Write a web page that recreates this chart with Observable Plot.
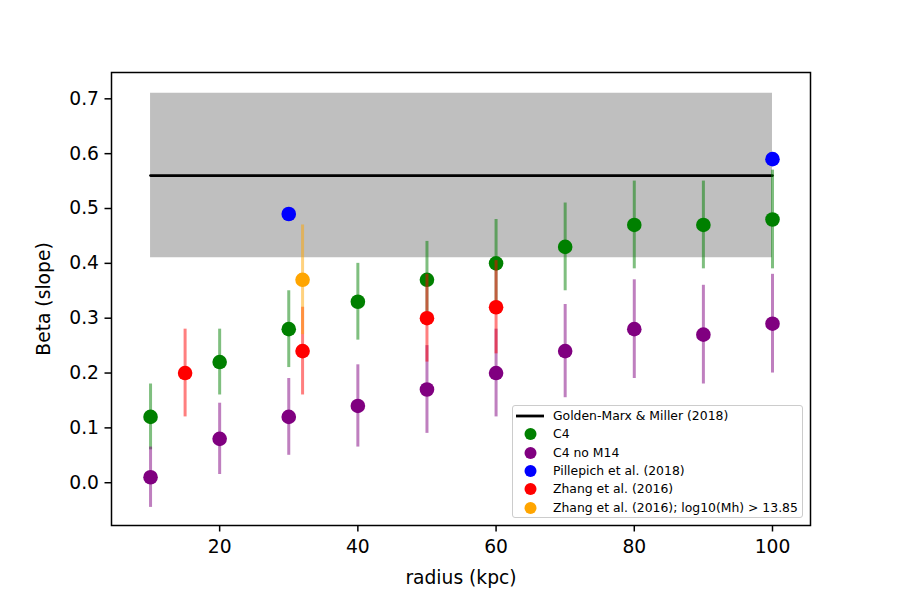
<!DOCTYPE html>
<html>
<head>
<meta charset="utf-8">
<script src="https://cdn.jsdelivr.net/npm/d3@7"></script>
<script src="https://cdn.jsdelivr.net/npm/@observablehq/plot@0.6"></script>
<style>
  html, body { margin: 0; padding: 0; background: #fff; }
  #wrap { position: relative; width: 900px; height: 600px; font-family: "DejaVu Sans", sans-serif; }
  #legend {
    position: absolute; left: 512px; top: 405px; width: 289px; height: 111px;
    border: 1px solid #cccccc; border-radius: 3px; background: rgba(255,255,255,0.8);
    font-family: "DejaVu Sans", sans-serif; font-size: 12.4px; color: #000;
    box-sizing: content-box;
  }
  .row { position: absolute; left: 0; height: 18px; display: flex; align-items: center; }
  .sym { position: absolute; left: 3px; width: 30px; height: 18px; }
  .txt { position: absolute; left: 40px; white-space: nowrap; line-height: 18px; }
</style>
</head>
<body>
<div id="wrap"><div id="legend"></div></div>
<script>
// ---- data ----
const radius = [10, 20, 30, 40, 50, 60, 70, 80, 90, 100];
const c4 = [0.12, 0.22, 0.28, 0.33, 0.37, 0.40, 0.43, 0.47, 0.47, 0.48];
const c4Err = [0.06, 0.06, 0.07, 0.07, 0.07, 0.08, 0.08, 0.08, 0.08, 0.09];
const c4noM14 = [0.01, 0.08, 0.12, 0.14, 0.17, 0.20, 0.24, 0.28, 0.27, 0.29];
const c4noM14Err = [0.055, 0.065, 0.07, 0.075, 0.08, 0.08, 0.085, 0.09, 0.09, 0.09];
const pillepichR = [30, 100];
const pillepich = [0.49, 0.59];
const zhangR = [15, 32, 50, 60];
const zhang = [0.20, 0.24, 0.30, 0.32];
const zhangErr = [0.08, 0.08, 0.08, 0.085];
const zhangHiR = [32];
const zhangHi = [0.37];
const zhangHiErr = [0.10];
const gmR = [10, 100];
const gmBeta = 0.56;
const gmLow = 0.41;
const gmHigh = 0.71;
const xTicks = [20, 40, 60, 80, 100];
const yTicks = [0.0, 0.1, 0.2, 0.3, 0.4, 0.5, 0.6, 0.7];
const legendLabels = ["Golden-Marx & Miller (2018)", "C4", "C4 no M14", "Pillepich et al. (2018)", "Zhang et al. (2016)", "Zhang et al. (2016); log10(Mh) > 13.85"];

// ---- tables ----
const toRows = (xs, ys, es) => xs.map((x, i) => ({x, y: ys[i], lo: es ? ys[i] - es[i] : null, hi: es ? ys[i] + es[i] : null}));
const c4Rows = toRows(radius, c4, c4Err);
const noRows = toRows(radius, c4noM14, c4noM14Err);
const pilRows = toRows(pillepichR, pillepich);
const zhRows = toRows(zhangR, zhang, zhangErr);
const zhHiRows = toRows(zhangHiR, zhangHi, zhangHiErr);
const gmRows = gmR.map(x => ({x, y: gmBeta, lo: gmLow, hi: gmHigh}));

const font = "DejaVu Sans, sans-serif";
const R = 7.3, EW = 3, EA = 0.5;

function series(rows, color, withErr) {
  const m = [];
  if (withErr) m.push(Plot.ruleX(rows, {x: "x", y1: "lo", y2: "hi", stroke: color, strokeOpacity: EA, strokeWidth: EW}));
  m.push(Plot.dot(rows, {x: "x", y: "y", r: R, fill: color, stroke: "none"}));
  return m;
}

const chart = Plot.plot({
  width: 900,
  height: 600,
  marginLeft: 111,
  marginRight: 90,
  marginTop: 72,
  marginBottom: 75,
  style: {fontFamily: font, fontSize: "18.7px", background: "white", color: "black"},
  x: {domain: [4.35, 105.5]},
  y: {domain: [-0.078, 0.748]},
  marks: [
    Plot.areaY(gmRows, {x: "x", y1: "lo", y2: "hi", fill: "#808080", fillOpacity: 0.5, curve: "linear"}),
    Plot.line(gmRows, {x: "x", y: "y", stroke: "black", strokeWidth: 2.8}),
    ...series(c4Rows, "green", true),
    ...series(noRows, "purple", true),
    ...series(pilRows, "blue", false),
    ...series(zhRows, "red", true),
    ...series(zhHiRows, "orange", true),
    Plot.axisX({ticks: xTicks, tickSize: 6.5, tickPadding: 8, strokeWidth: 1.5, fontSize: 18.7,
      label: "radius (kpc)", labelAnchor: "center", labelArrow: "none", labelOffset: 58}),
    Plot.axisY({ticks: yTicks, tickSize: 6.5, tickPadding: 6, strokeWidth: 1.5, fontSize: 18.7,
      tickFormat: d => d.toFixed(1),
      label: "Beta (slope)", labelAnchor: "center", labelArrow: "none", labelOffset: 75}),
    Plot.frame({stroke: "black", strokeWidth: 1.5})
  ]
});
document.getElementById("wrap").prepend(chart);

// ---- legend ----
const legendColors = [null, "green", "purple", "blue", "red", "orange"];
const lg = document.getElementById("legend");
legendLabels.forEach((lab, i) => {
  const row = document.createElement("div");
  row.className = "row";
  row.style.top = (1 + i * 18.3) + "px";
  row.style.width = "100%";
  const sym = document.createElementNS("http://www.w3.org/2000/svg", "svg");
  sym.setAttribute("class", "sym");
  sym.setAttribute("width", 30); sym.setAttribute("height", 18);
  if (legendColors[i] === null) {
    const l = document.createElementNS("http://www.w3.org/2000/svg", "line");
    l.setAttribute("x1", 0); l.setAttribute("x2", 28); l.setAttribute("y1", 9); l.setAttribute("y2", 9);
    l.setAttribute("stroke", "black"); l.setAttribute("stroke-width", 2.8);
    sym.appendChild(l);
  } else {
    const c = document.createElementNS("http://www.w3.org/2000/svg", "circle");
    c.setAttribute("cx", 14.5); c.setAttribute("cy", 9); c.setAttribute("r", 6);
    c.setAttribute("fill", legendColors[i]);
    sym.appendChild(c);
  }
  const t = document.createElement("span");
  t.className = "txt";
  t.textContent = lab;
  row.appendChild(sym);
  row.appendChild(t);
  lg.appendChild(row);
});
</script>
</body>
</html>
